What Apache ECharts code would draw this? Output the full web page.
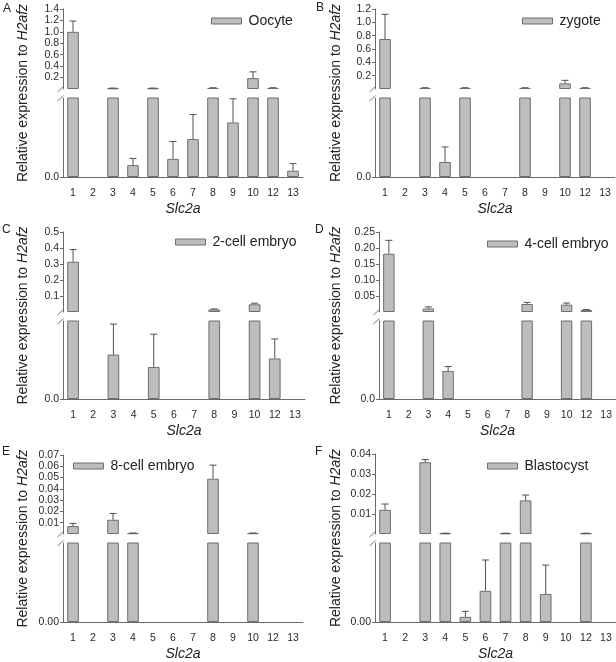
<!DOCTYPE html>
<html><head><meta charset="utf-8">
<script src="https://cdn.jsdelivr.net/npm/echarts@6/dist/echarts.min.js"></script>
<style>html,body{margin:0;padding:0;background:#fff}#c{width:616px;height:662px}</style>
</head><body><div id="c"></div>
<script>
// ---------- data ----------
var categories = ['1','2','3','4','5','6','7','8','9','10','12','13'];
var stageNames = ['Oocyte','zygote','2-cell embryo','4-cell embryo','8-cell embryo','Blastocyst'];
var panelLetters = ['A','B','C','D','E','F'];

var oocyteMean = [1.0, 0, 0.012, 0.0015, 0.012, 0.0023, 0.0048, 0.018, 0.0069, 0.19, 0.018, 0.0008];
var oocyteSd   = [0.19, 0, 0.004, 0.00085, 0.004, 0.0022, 0.0031, 0.004, 0.003, 0.11, 0.004, 0.0009];
var zygoteMean = [0.75, 0, 0.015, 0.0019, 0.015, 0, 0, 0.015, 0, 0.085, 0.015, 0];
var zygoteSd   = [0.37, 0, 0.004, 0.0019, 0.004, 0, 0, 0.004, 0, 0.045, 0.004, 0];
var twoCellMean = [0.314, 0, 0.0057, 0, 0.0041, 0, 0, 0.016, 0, 0.048, 0.0052, 0];
var twoCellSd   = [0.076, 0, 0.0039, 0, 0.0042, 0, 0, 0.003, 0, 0.007, 0.0025, 0];
var fourCellMean = [0.182, 0, 0.011, 0.0018, 0, 0, 0, 0.025, 0, 0.023, 0.0065, 0];
var fourCellSd   = [0.042, 0, 0.005, 0.00028, 0, 0, 0, 0.005, 0, 0.005, 0.001, 0];
var eightCellMean = [0.007, 0, 0.0126, 0.0007, 0, 0, 0, 0.049, 0, 0.0007, 0, 0];
var eightCellSd   = [0.0024, 0, 0.0056, 0.0002, 0, 0, 0, 0.012, 0, 0.0002, 0, 0];
var blastMean = [0.0121, 0, 0.0359, 0.0003, 0.000013, 0.000079, 0.0003, 0.0168, 0.000071, 0, 0.0003, 0];
var blastSd   = [0.0029, 0, 0.0013, 0.0001, 0.000014, 0.000078, 0.0001, 0.0027, 0.000073, 0, 0.0001, 0];

var upperTicksA = [0.2, 0.4, 0.6, 0.8, 1.0, 1.2, 1.4];
var upperTicksB = [0.2, 0.4, 0.6, 0.8, 1.0, 1.2];
var upperTicksC = [0.1, 0.2, 0.3, 0.4, 0.5];
var upperTicksD = [0.05, 0.10, 0.15, 0.20, 0.25];
var upperTicksE = [0.01, 0.02, 0.03, 0.04, 0.05, 0.06, 0.07];
var upperTicksF = [0.01, 0.02, 0.03, 0.04];
var tickDecimals = [1, 1, 1, 2, 2, 2];
var lowerTickLabels = ['0.0', '0.0', '0.0', '0.0', '0.00', '0.00'];
// value at which each y axis is broken (top of the lower segment)
var breakValues = [0.01, 0.01, 0.01, 0.005, 0.0005, 0.0002];

var means = [oocyteMean, zygoteMean, twoCellMean, fourCellMean, eightCellMean, blastMean];
var sds = [oocyteSd, zygoteSd, twoCellSd, fourCellSd, eightCellSd, blastSd];
var upperTicks = [upperTicksA, upperTicksB, upperTicksC, upperTicksD, upperTicksE, upperTicksF];

// ---------- layout ----------
var layout = [
  {left: 63,  width: 240, upTop: 9,   upH: 80, loTop: 98,  loH: 79, legLeft: 211, legCy: 22,  titleX: 23,  letterX: 3,   letterY: 9},
  {left: 375, width: 240, upTop: 9,   upH: 80, loTop: 98,  loH: 79, legLeft: 522, legCy: 22,  titleX: 336, letterX: 316, letterY: 8},
  {left: 63,  width: 242, upTop: 232, upH: 80, loTop: 321, loH: 78, legLeft: 175, legCy: 243, titleX: 23,  letterX: 2,   letterY: 230},
  {left: 379, width: 237, upTop: 232, upH: 80, loTop: 321, loH: 78, legLeft: 487, legCy: 245, titleX: 336, letterX: 315, letterY: 230},
  {left: 63,  width: 240, upTop: 455, upH: 79, loTop: 543, loH: 79, legLeft: 73,  legCy: 467, titleX: 23,  letterX: 2,   letterY: 452},
  {left: 375, width: 241, upTop: 454, upH: 80, loTop: 543, loH: 79, legLeft: 487, legCy: 467, titleX: 336, letterX: 315, letterY: 452}
];

var FONT = 'Arial, "Liberation Sans", Helvetica, sans-serif';
var AXIS = '#6a6a6a';
var LABEL = '#2a2a2a';
var barStyle = {color: '#bdbdbd', borderColor: '#6e6e6e', borderWidth: 1};

function renderErr(params, api) {
  var x = api.value(0), lo = api.value(1), hi = api.value(2);
  var p0 = api.coord([x, lo]), p1 = api.coord([x, hi]);
  var s = {stroke: '#505050', lineWidth: 1};
  return {type: 'group', children: [
    {type: 'line', shape: {x1: p0[0], y1: p0[1], x2: p1[0], y2: p1[1]}, style: s},
    {type: 'line', shape: {x1: p1[0] - 3.5, y1: p1[1], x2: p1[0] + 3.5, y2: p1[1]}, style: s}
  ]};
}

var grids = [], xAxes = [], yAxes = [], series = [], legends = [], graphics = [];

for (var i = 0; i < 6; i++) {
  var L = layout[i], m = means[i], sd = sds[i], brk = breakValues[i];
  var ticks = upperTicks[i], dec = tickDecimals[i];
  var ui = 2 * i, li = 2 * i + 1;
  grids.push({left: L.left, top: L.upTop, width: L.width, height: L.upH});
  grids.push({left: L.left, top: L.loTop, width: L.width, height: L.loH});

  xAxes.push({type: 'category', gridIndex: ui, data: categories, show: false});
  xAxes.push({type: 'category', gridIndex: li, data: categories,
    axisLine: {lineStyle: {color: AXIS, width: 1}},
    axisTick: {alignWithLabel: true, length: 3, lineStyle: {color: AXIS}},
    axisLabel: {interval: 0, fontSize: 10.5, fontFamily: FONT, color: LABEL, margin: 11}
  });

  (function (dec) {
    yAxes.push({type: 'value', gridIndex: ui, min: 0, max: ticks[ticks.length - 1],
      splitLine: {show: false},
      axisLine: {show: true, lineStyle: {color: AXIS, width: 1}},
      axisTick: {show: true, length: 3, customValues: ticks, lineStyle: {color: AXIS}},
      axisLabel: {customValues: ticks, fontSize: 10.5, fontFamily: FONT, color: LABEL, margin: 4,
        formatter: function (v) { return Number(v).toFixed(dec); }}
    });
  })(dec);
  (function (lab) {
    yAxes.push({type: 'value', gridIndex: li, min: 0, max: brk,
      splitLine: {show: false},
      axisLine: {show: true, lineStyle: {color: AXIS, width: 1}},
      axisTick: {show: true, length: 3, customValues: [0], lineStyle: {color: AXIS}},
      axisLabel: {customValues: [0], fontSize: 10.5, fontFamily: FONT, color: LABEL, margin: 4,
        formatter: function () { return lab; }}
    });
  })(lowerTickLabels[i]);

  var upData = [], loData = [], upErr = [], loErr = [];
  for (var j = 0; j < categories.length; j++) {
    upData.push(m[j] > brk ? m[j] : '-');
    loData.push(m[j] > 0 ? m[j] : '-');
    if (sd[j] > 0) {
      if (m[j] > brk) upErr.push([j, m[j], m[j] + sd[j]]);
      else loErr.push([j, m[j], m[j] + sd[j]]);
    }
  }
  series.push({name: stageNames[i], type: 'bar', xAxisIndex: ui, yAxisIndex: ui, data: upData,
    barWidth: '58%', clip: true, itemStyle: barStyle, emphasis: {disabled: true}});
  series.push({name: stageNames[i], type: 'bar', xAxisIndex: li, yAxisIndex: li, data: loData,
    barWidth: '58%', clip: true, itemStyle: barStyle, emphasis: {disabled: true}});
  series.push({name: 'err' + i, type: 'custom', xAxisIndex: ui, yAxisIndex: ui, data: upErr,
    renderItem: renderErr, z: 5, clip: true});
  series.push({name: 'err' + i, type: 'custom', xAxisIndex: li, yAxisIndex: li, data: loErr,
    renderItem: renderErr, z: 5, clip: true});

  legends.push({data: [stageNames[i]], left: L.legLeft, top: L.legCy - 8, padding: 0,
    icon: 'rect', itemWidth: 30, itemHeight: 6, selectedMode: false,
    itemStyle: {color: '#bdbdbd', borderColor: '#6e6e6e', borderWidth: 1},
    textStyle: {fontSize: 14, fontFamily: FONT, color: '#222', padding: [0, 0, 0, 2]}});

  // y-axis title
  var midY = (L.upTop + L.loTop + L.loH) / 2;
  graphics.push({type: 'text', x: L.titleX, y: midY, rotation: Math.PI / 2,
    style: {text: '{a|Relative expression to }{b|H2afz}', align: 'center', verticalAlign: 'middle',
      rich: {a: {fontSize: 14, fontFamily: FONT, fill: '#222'},
             b: {fontSize: 14, fontFamily: FONT, fontStyle: 'italic', fill: '#222'}}}});
  // x-axis title
  graphics.push({type: 'text', x: L.left + L.width / 2, y: L.loTop + L.loH + 32,
    style: {text: 'Slc2a', fontSize: 14, fontFamily: FONT, fontStyle: 'italic', fill: '#222',
      align: 'center', verticalAlign: 'middle'}});
  // panel letter
  graphics.push({type: 'text', x: L.letterX, y: L.letterY,
    style: {text: panelLetters[i], fontSize: 12, fontFamily: FONT, fill: '#222',
      align: 'left', verticalAlign: 'middle'}});
  // break marks
  var ub = L.upTop + L.upH, lt = L.loTop;
  graphics.push({type: 'line', shape: {x1: L.left - 5.5, y1: ub + 3, x2: L.left + 0.5, y2: ub - 2.5},
    style: {stroke: '#777', lineWidth: 1}});
  graphics.push({type: 'line', shape: {x1: L.left - 5.5, y1: lt + 3, x2: L.left + 0.5, y2: lt - 2.5},
    style: {stroke: '#777', lineWidth: 1}});
}

var chart = echarts.init(document.getElementById('c'), null, {renderer: 'canvas'});
chart.setOption({
  animation: false,
  backgroundColor: '#fff',
  grid: grids, xAxis: xAxes, yAxis: yAxes, series: series, legend: legends, graphic: graphics
});
</script>
</body></html>
